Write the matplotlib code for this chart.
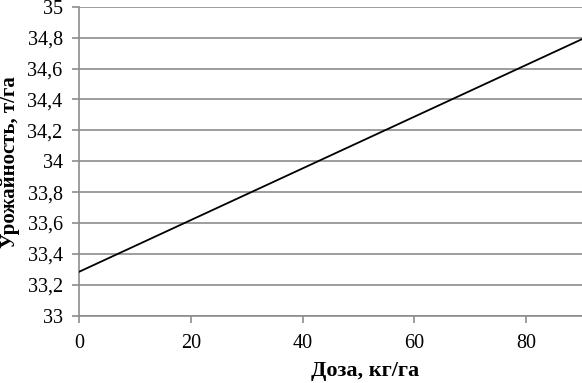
import numpy as np
import matplotlib
matplotlib.use('Agg')
import matplotlib.pyplot as plt
from matplotlib.ticker import FuncFormatter

# Данные: линейная зависимость урожайности от дозы
doza = [0, 90]
urozhai = [33.285, 34.79]

x_ticks = [0, 20, 40, 60, 80]
y_ticks = np.round(np.arange(33, 35.01, 0.2), 1)

plt.rcParams['font.family'] = ['Liberation Serif', 'DejaVu Serif']

fig = plt.figure(figsize=(5.82, 3.83), dpi=100)
ax = fig.add_axes([0.1363, 0.1757, 0.8637, 0.8068])

grid_color = '#8c8c8c'
for yv in y_ticks:
    ax.axhline(yv, color=grid_color, linewidth=1.2, zorder=1)

ax.plot(doza, urozhai, color='black', linewidth=1.3, zorder=3)

ax.set_xlim(0, 90)
ax.set_ylim(33, 35)
ax.set_xticks(x_ticks)
ax.set_yticks(y_ticks)

def fmt(v, pos):
    s = ('%.1f' % v).rstrip('0').rstrip('.')
    return s.replace('.', ',')

ax.yaxis.set_major_formatter(FuncFormatter(fmt))

for side in ['top', 'right']:
    ax.spines[side].set_visible(False)
for side in ['left', 'bottom']:
    ax.spines[side].set_color(grid_color)
    ax.spines[side].set_linewidth(1.2)

ax.tick_params(axis='both', colors=grid_color, length=5, width=1.2,
               labelcolor='black', labelsize=14.5)
ax.tick_params(axis='y', pad=7)
ax.tick_params(axis='x', pad=8)

# подписи осей в пикселях рисунка
fig.text(365 / 582, 1 - 371 / 383, 'Доза, кг/га', fontsize=16, fontweight='bold',
         ha='center', va='center')
fig.text(10 / 582, 1 - 162 / 383, 'Урожайность, т/га', fontsize=15, fontweight='bold',
         ha='center', va='center', rotation=90)

fig.savefig('out.png', dpi=100)
plt.close(fig)
